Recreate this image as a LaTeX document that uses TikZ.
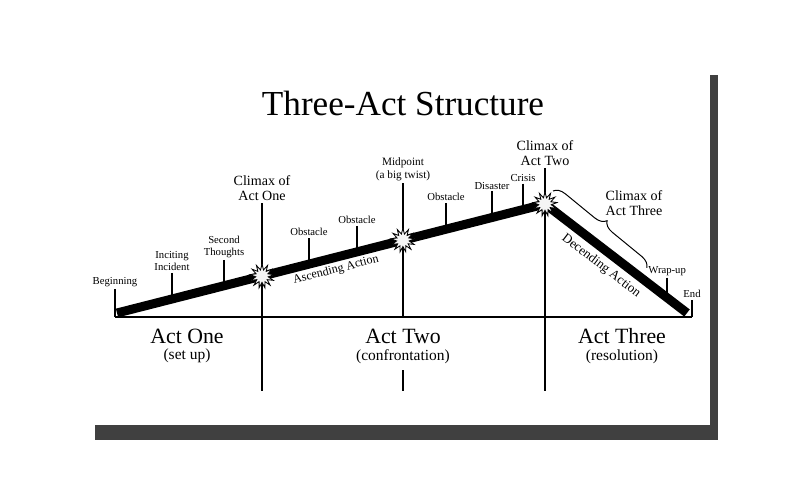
\documentclass[tikz,border=0pt]{standalone}
\usepackage{fontspec}
\setmainfont{Liberation Serif}
\usetikzlibrary{calc,shapes.geometric,decorations.pathreplacing}
\begin{document}
\begin{tikzpicture}[x=0.025cm,y=-0.025cm,
  lbl/.style={font=\fontsize{7.6}{8.4}\selectfont,align=center,inner sep=1.5pt},
  climax/.style={font=\fontsize{10}{11}\selectfont,align=center,inner sep=1.5pt},
  act/.style={font=\fontsize{15.5}{17}\selectfont,inner sep=0pt},
  sub/.style={font=\fontsize{11}{13}\selectfont,inner sep=0pt},
  rule/.style={line width=0.9pt},
  burst/.style={star,star points=13,star point ratio=1.9,minimum size=0.6cm,inner sep=0pt,draw,fill=gray!8,line width=0.6pt}]
\useasboundingbox (0,0) rectangle (800,500);
% card and its shadow
\fill[black!75] (95,75) rectangle (718,440);
\fill[white] (70,55) rectangle (710,425);
\node[font=\fontsize{25}{29}\selectfont] (title) at (403,103) {Three-Act Structure};

\coordinate (beg) at (117,313);
\coordinate (top) at (545,204);
\coordinate (fin) at (687,313);
\coordinate (baseL) at (115,317);
\coordinate (baseR) at (692,317);
\draw[rule] (baseL) -- (baseR);

% beats along the rising line
\foreach \nm/\p/\txt in {inc/0.1285/{Inciting\\Incident},sec/0.25/{Second\\Thoughts},ob1/0.4486/Obstacle,
    ob2/0.5607/Obstacle,ob3/0.7687/Obstacle,dis/0.8762/Disaster,cri/0.9486/Crisis}{
  \coordinate (\nm foot) at ($(beg)!\p!(top)$);
  \node[lbl,anchor=south] (\nm) at ($(\nm foot)+(0,-26)$) {\txt};
  \draw[rule] (\nm) -- (\nm foot);
}
\node[lbl,anchor=south] (begl) at (115,289) {Beginning};
\draw[rule] (begl) -- (baseL);
\coordinate (wrapfoot) at ($(top)!0.86!(fin)$);
\node[lbl,anchor=south] (wrap) at ($(wrapfoot)+(0,-20)$) {Wrap-up};
\draw[rule] (wrap) -- (wrapfoot);
\node[lbl,anchor=south] (endl) at (692,300) {End};
\draw[rule] (endl) -- (baseR);

% climaxes and act dividers
\node[climax,anchor=south] (cl1) at (262,203) {Climax of\\Act One};
\coordinate (cl1foot) at (262,391);
\draw[rule] (cl1) -- (cl1foot);
\node[lbl,font=\fontsize{8}{9}\selectfont,anchor=south] (midl) at (403,183) {Midpoint\\(a big twist)};
\coordinate (midfoot) at (403,317);
\draw[rule] (midl) -- (midfoot);
\coordinate (stubtop) at (403,370);
\coordinate (stubbot) at (403,391);
\draw[rule] (stubtop) -- (stubbot);
\node[climax,anchor=south] (cl2) at (545,168) {Climax of\\Act Two};
\coordinate (cl2foot) at (545,391);
\draw[rule] (cl2) -- (cl2foot);

\draw[line width=6.4pt] (beg) -- (top) -- (fin);
\node[burst] (s1) at ($(beg)!0.3388!(top)$) {};
\node[burst] (s2) at ($(beg)!0.668!(top)$) {};
\node[burst] (s3) at (top) {};

\node[font=\fontsize{8.6}{10}\selectfont,rotate=14.3] (asc) at (336,270) {Ascending Action};
\node[font=\fontsize{9.3}{11}\selectfont,rotate=-37.6] (desc) at (601,266) {Decending Action};

\coordinate (brA) at (553,191);
\coordinate (brB) at (647,268);
\draw[line width=0.7pt,decorate,decoration={brace,amplitude=8pt}] (brA) -- (brB);
\node[climax] (cl3) at (634,203) {Climax of\\Act Three};

\node[act] (a1) at (187,336) {Act One};
\node[sub] (a1s) at (187,356) {(set up)};
\node[act] (a2) at (403,336) {Act Two};
\node[sub] (a2s) at (403,357) {(confrontation)};
\node[act] (a3) at (622,336) {Act Three};
\node[sub] (a3s) at (622,357) {(resolution)};
\end{tikzpicture}
\end{document}
